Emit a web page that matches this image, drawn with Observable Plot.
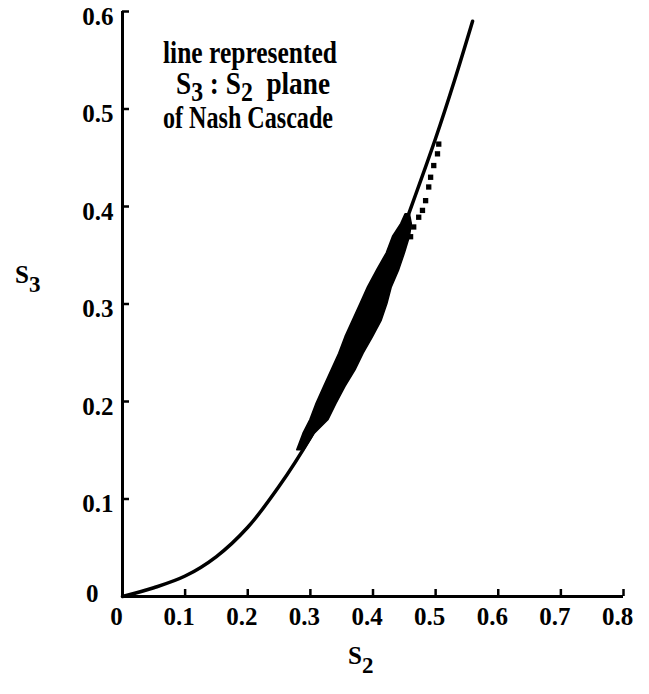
<!DOCTYPE html>
<html><head><meta charset="utf-8">
<script src="https://cdn.jsdelivr.net/npm/d3@7"></script>
<script src="https://cdn.jsdelivr.net/npm/@observablehq/plot@0.6"></script>
<style>body{margin:0;background:#fff} svg{display:block}</style>
</head><body><div id="chart"></div>
<script>
// Curve: line represented in the S3:S2 plane
const s2Curve = [0, 0.05, 0.10, 0.15, 0.20, 0.25, 0.30, 0.35, 0.40, 0.45, 0.50, 0.53, 0.559];
const s3Curve = [0, 0.009, 0.021, 0.041, 0.071, 0.113, 0.163, 0.222, 0.292, 0.380, 0.470, 0.529, 0.590];

// Dense cloud of points (band edges read at given S3 levels)
const bandS3    = [0.150, 0.167, 0.181, 0.198, 0.215, 0.232, 0.249, 0.266, 0.283, 0.300, 0.317, 0.335, 0.352, 0.369, 0.382, 0.392];
const bandLeft  = [0.279, 0.289, 0.300, 0.310, 0.322, 0.334, 0.346, 0.356, 0.368, 0.380, 0.392, 0.407, 0.422, 0.432, 0.445, 0.452];
const bandRight = [0.290, 0.307, 0.329, 0.342, 0.356, 0.372, 0.385, 0.400, 0.414, 0.423, 0.430, 0.442, 0.451, 0.459, 0.462, 0.459];

// Sparse points above the cloud
const dotS2 = [0.505, 0.503, 0.497, 0.492, 0.489, 0.484, 0.479, 0.473, 0.465, 0.460];
const dotS3 = [0.464, 0.454, 0.442, 0.430, 0.420, 0.406, 0.396, 0.389, 0.379, 0.369];

const xTicks = [0, 0.1, 0.2, 0.3, 0.4, 0.5, 0.6, 0.7, 0.8];
const yTicks = [0.1, 0.2, 0.3, 0.4, 0.5, 0.6];
const yZero = [0];

const titleLine1 = "line represented";
const titleLine3 = "of Nash Cascade";
const sym = "S";

const curve = s2Curve.map((x, i) => ({x, y: s3Curve[i]}));
const band = bandS3.map((y, i) => ({y, x1: bandLeft[i], x2: bandRight[i]}));
const dots = dotS2.map((x, i) => ({x, y: dotS3[i]}));

const FONT = "'Liberation Serif', 'Times New Roman', Times, serif";
const fmt = d => String(d);

const plot = Plot.plot({
  width: 649, height: 694,
  marginLeft: 122, marginRight: 26, marginTop: 11, marginBottom: 98,
  x: {domain: [0, 0.8]},
  y: {domain: [0, 0.6]},
  style: {fontFamily: FONT, fontWeight: "bold", background: "white", color: "black"},
  marks: [
    Plot.areaX(band, {y: "y", x1: "x1", x2: "x2", fill: "black", stroke: "black", strokeWidth: 1.5, curve: "linear"}),
    Plot.line(curve, {x: "x", y: "y", stroke: "black", strokeWidth: 3.5, curve: "catmull-rom"}),
    Plot.dot(dots, {x: "x", y: "y", symbol: "square", r: 3, fill: "black"}),
    Plot.ruleX([0], {stroke: "black", strokeWidth: 3}),
    Plot.ruleY([0], {stroke: "black", strokeWidth: 3}),
    Plot.axisY({ticks: yTicks, tickSize: 7, insetLeft: 7, fill: "none", strokeWidth: 2.5, label: null}),
    Plot.axisY({ticks: yTicks, tickSize: 0, tickPadding: 9, stroke: "none", fontSize: 25, fontWeight: "bold", dy: 5, tickFormat: fmt, label: null}),
    Plot.axisY({ticks: yZero, tickSize: 0, tickPadding: 24, stroke: "none", fontSize: 25, fontWeight: "bold", dy: -3, tickFormat: fmt, label: null}),
    Plot.axisX({ticks: xTicks, tickSize: 7, insetBottom: 7, fill: "none", strokeWidth: 2.5, label: null}),
    Plot.axisX({ticks: xTicks, tickSize: 0, tickPadding: 11, stroke: "none", fontSize: 25, fontWeight: "bold", dx: -6, tickFormat: fmt, label: null})
  ]
});
document.getElementById("chart").appendChild(plot);

const svg = d3.select(plot);
function addText(x, y, size, parts, length) {
  const t = svg.append("text")
    .attr("x", x).attr("y", y)
    .attr("text-anchor", "start")
    .attr("font-family", FONT).attr("font-weight", "bold")
    .attr("font-size", size).attr("fill", "black")
    .style("white-space", "pre");
  if (length) t.attr("textLength", length).attr("lengthAdjust", "spacingAndGlyphs");
  parts.forEach(p => {
    const s = t.append("tspan").text(p.t);
    if (p.dy) s.attr("dy", p.dy);
    if (p.size) s.attr("font-size", p.size);
  });
  return t;
}
// title block
addText(163, 63, 31, [{t: titleLine1}], 174);
addText(176, 94, 31, [
  {t: sym}, {t: "3", dy: 7, size: 27}, {t: " : ", dy: -7}, {t: sym}, {t: "2", dy: 7, size: 27}, {t: "  plane", dy: -7}
], 154);
addText(163, 128, 31, [{t: titleLine3}], 170);
// axis labels
addText(15, 283, 25, [{t: sym}, {t: "3", dy: 9, size: 23}]);
addText(348, 664, 25, [{t: sym}, {t: "2", dy: 9, size: 23}]);
</script>
</body></html>
